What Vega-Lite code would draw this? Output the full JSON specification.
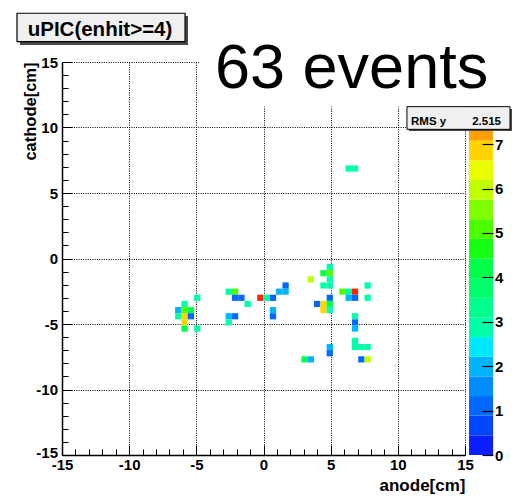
{
  "$schema": "https://vega.github.io/schema/vega-lite/v6.json",
  "width": 403,
  "height": 393,
  "autosize": {"type": "none"},
  "padding": {"left": 62, "top": 62, "right": 54, "bottom": 43},
  "background": "#ffffff",
  "config": {
    "view": {"stroke": null},
    "font": "Liberation Sans",
    "axis": {"labelFont": "Liberation Sans", "titleFont": "Liberation Sans", "labelColor": "#000", "titleColor": "#000", "tickColor": "#000", "domainColor": "#000"}
  },
  "datasets": {
    "cells": [
      {"x": -6.11, "x2": -5.64, "y": -3.705, "y2": -3.235, "n": 3},
      {"x": -6.58, "x2": -6.11, "y": -4.175, "y2": -3.705, "n": 2},
      {"x": -6.11, "x2": -5.64, "y": -4.175, "y2": -3.705, "n": 5},
      {"x": -5.64, "x2": -5.17, "y": -4.175, "y2": -3.705, "n": 4},
      {"x": -6.58, "x2": -6.11, "y": -4.645, "y2": -4.175, "n": 3},
      {"x": -6.11, "x2": -5.64, "y": -4.645, "y2": -4.175, "n": 7},
      {"x": -5.64, "x2": -5.17, "y": -4.645, "y2": -4.175, "n": 1},
      {"x": -6.11, "x2": -5.64, "y": -5.115, "y2": -4.645, "n": 7},
      {"x": -6.11, "x2": -5.64, "y": -5.585, "y2": -5.115, "n": 4},
      {"x": -5.17, "x2": -4.7, "y": -3.235, "y2": -2.765, "n": 3},
      {"x": -5.17, "x2": -4.7, "y": -5.585, "y2": -5.115, "n": 3},
      {"x": -2.82, "x2": -2.35, "y": -2.765, "y2": -2.295, "n": 3},
      {"x": -2.35, "x2": -1.88, "y": -2.765, "y2": -2.295, "n": 5},
      {"x": -2.35, "x2": -1.88, "y": -3.235, "y2": -2.765, "n": 1},
      {"x": -1.88, "x2": -1.41, "y": -3.235, "y2": -2.765, "n": 1},
      {"x": -1.41, "x2": -0.94, "y": -3.705, "y2": -3.235, "n": 3},
      {"x": -2.82, "x2": -2.35, "y": -4.645, "y2": -4.175, "n": 2},
      {"x": -2.35, "x2": -1.88, "y": -4.645, "y2": -4.175, "n": 1},
      {"x": -2.82, "x2": -2.35, "y": -5.115, "y2": -4.645, "n": 3},
      {"x": -0.47, "x2": 0, "y": -3.235, "y2": -2.765, "n": 8},
      {"x": 0, "x2": 0.47, "y": -3.235, "y2": -2.765, "n": 3},
      {"x": 0.47, "x2": 0.94, "y": -3.235, "y2": -2.765, "n": 1},
      {"x": 0.94, "x2": 1.41, "y": -2.765, "y2": -2.295, "n": 2},
      {"x": 1.41, "x2": 1.88, "y": -2.765, "y2": -2.295, "n": 2},
      {"x": 1.41, "x2": 1.88, "y": -2.295, "y2": -1.825, "n": 1},
      {"x": 0.47, "x2": 0.94, "y": -4.175, "y2": -3.705, "n": 2},
      {"x": 0.47, "x2": 0.94, "y": -4.645, "y2": -4.175, "n": 1},
      {"x": 4.7, "x2": 5.17, "y": -0.885, "y2": -0.415, "n": 3},
      {"x": 4.23, "x2": 4.7, "y": -1.355, "y2": -0.885, "n": 4},
      {"x": 4.7, "x2": 5.17, "y": -1.355, "y2": -0.885, "n": 5},
      {"x": 4.7, "x2": 5.17, "y": -1.825, "y2": -1.355, "n": 3},
      {"x": 4.23, "x2": 4.7, "y": -2.295, "y2": -1.825, "n": 3},
      {"x": 4.7, "x2": 5.17, "y": -2.295, "y2": -1.825, "n": 3},
      {"x": 3.29, "x2": 3.76, "y": -1.825, "y2": -1.355, "n": 6},
      {"x": 4.7, "x2": 5.17, "y": -3.235, "y2": -2.765, "n": 1},
      {"x": 3.76, "x2": 4.23, "y": -3.705, "y2": -3.235, "n": 1},
      {"x": 4.23, "x2": 4.7, "y": -3.705, "y2": -3.235, "n": 7},
      {"x": 4.23, "x2": 4.7, "y": -4.175, "y2": -3.705, "n": 7},
      {"x": 4.7, "x2": 5.17, "y": -3.705, "y2": -3.235, "n": 4},
      {"x": 4.7, "x2": 5.17, "y": -4.175, "y2": -3.705, "n": 3},
      {"x": 5.64, "x2": 6.11, "y": -2.765, "y2": -2.295, "n": 5},
      {"x": 6.11, "x2": 6.58, "y": -2.765, "y2": -2.295, "n": 3},
      {"x": 6.58, "x2": 7.05, "y": -2.765, "y2": -2.295, "n": 8},
      {"x": 6.11, "x2": 6.58, "y": -3.235, "y2": -2.765, "n": 2},
      {"x": 6.58, "x2": 7.05, "y": -3.235, "y2": -2.765, "n": 1},
      {"x": 7.52, "x2": 7.99, "y": -2.295, "y2": -1.825, "n": 3},
      {"x": 7.52, "x2": 7.99, "y": -3.235, "y2": -2.765, "n": 3},
      {"x": 6.58, "x2": 7.05, "y": -4.645, "y2": -4.175, "n": 3},
      {"x": 6.58, "x2": 7.05, "y": -5.115, "y2": -4.645, "n": 1},
      {"x": 6.58, "x2": 7.05, "y": -5.585, "y2": -5.115, "n": 2},
      {"x": 6.58, "x2": 7.05, "y": -6.525, "y2": -6.055, "n": 3},
      {"x": 6.58, "x2": 7.05, "y": -6.995, "y2": -6.525, "n": 3},
      {"x": 7.05, "x2": 7.52, "y": -6.995, "y2": -6.525, "n": 3},
      {"x": 7.52, "x2": 7.99, "y": -6.995, "y2": -6.525, "n": 3},
      {"x": 4.7, "x2": 5.17, "y": -6.995, "y2": -6.525, "n": 2},
      {"x": 4.7, "x2": 5.17, "y": -7.465, "y2": -6.995, "n": 1},
      {"x": 2.82, "x2": 3.29, "y": -7.935, "y2": -7.465, "n": 4},
      {"x": 3.29, "x2": 3.76, "y": -7.935, "y2": -7.465, "n": 2},
      {"x": 7.05, "x2": 7.52, "y": -7.935, "y2": -7.465, "n": 1},
      {"x": 7.52, "x2": 7.99, "y": -7.935, "y2": -7.465, "n": 6},
      {"x": 6.11, "x2": 6.58, "y": 6.635, "y2": 7.105, "n": 3},
      {"x": 6.58, "x2": 7.05, "y": 6.635, "y2": 7.105, "n": 3}
    ],
    "bands": [
      {"z0": 0, "z1": 0.4425},
      {"z0": 0.4425, "z1": 0.885},
      {"z0": 0.885, "z1": 1.3275},
      {"z0": 1.3275, "z1": 1.77},
      {"z0": 1.77, "z1": 2.2125},
      {"z0": 2.2125, "z1": 2.655},
      {"z0": 2.655, "z1": 3.0975},
      {"z0": 3.0975, "z1": 3.54},
      {"z0": 3.54, "z1": 3.9825},
      {"z0": 3.9825, "z1": 4.425},
      {"z0": 4.425, "z1": 4.8675},
      {"z0": 4.8675, "z1": 5.31},
      {"z0": 5.31, "z1": 5.7525},
      {"z0": 5.7525, "z1": 6.195},
      {"z0": 6.195, "z1": 6.6375},
      {"z0": 6.6375, "z1": 7.08},
      {"z0": 7.08, "z1": 7.5225},
      {"z0": 7.5225, "z1": 7.965},
      {"z0": 7.965, "z1": 8.4075},
      {"z0": 8.4075, "z1": 8.85}
    ]
  },
  "layer": [
    {
      "data": {"name": "cells"},
      "mark": {"type": "rect"},
      "encoding": {
        "x": {
          "field": "x", "type": "quantitative",
          "scale": {"domain": [-15, 15], "nice": false, "zero": false},
          "axis": {
            "orient": "bottom",
            "values": [-15, -14, -13, -12, -11, -10, -9, -8, -7, -6, -5, -4, -3, -2, -1, 0, 1, 2, 3, 4, 5, 6, 7, 8, 9, 10, 11, 12, 13, 14, 15],
            "labelExpr": "datum.value % 5 === 0 ? '' + datum.value : ''",
            "labelFontSize": 15, "labelFontWeight": "bold", "labelPadding": 12.5,
            "labelFlush": false, "labelOverlap": false,
            "tickSize": {"condition": {"test": "datum.value % 5 === 0", "value": -10}, "value": -6},
            "tickWidth": 1, "domainWidth": 1.5,
            "grid": true, "gridColor": "#000", "gridDash": [1, 1.3], "gridWidth": 1,
            "gridOpacity": {"condition": {"test": "datum.value % 5 === 0", "value": 1}, "value": 0},
            "title": "anode[cm]", "titleFontSize": 17, "titleFontWeight": "bold",
            "titleAnchor": "end", "titlePadding": 1, "zindex": 0
          }
        },
        "x2": {"field": "x2"},
        "y": {
          "field": "y", "type": "quantitative",
          "scale": {"domain": [-15, 15], "nice": false, "zero": false},
          "axis": {
            "orient": "left",
            "values": [-15, -14, -13, -12, -11, -10, -9, -8, -7, -6, -5, -4, -3, -2, -1, 0, 1, 2, 3, 4, 5, 6, 7, 8, 9, 10, 11, 12, 13, 14, 15],
            "labelExpr": "datum.value % 5 === 0 ? '' + datum.value : ''",
            "labelFontSize": 15, "labelFontWeight": "bold", "labelPadding": 14.5,
            "labelOffset": {"condition": {"test": "datum.value === -15", "value": -3}, "value": 0},
            "labelFlush": false, "labelOverlap": false,
            "tickSize": {"condition": {"test": "datum.value % 5 === 0", "value": -10}, "value": -6},
            "tickWidth": 1, "domainWidth": 1.5,
            "grid": true, "gridColor": "#000", "gridDash": [1, 1.3], "gridWidth": 1,
            "gridOpacity": {"condition": {"test": "datum.value % 5 === 0", "value": 1}, "value": 0},
            "title": "cathode[cm]", "titleFontSize": 16.5, "titleFontWeight": "bold",
            "titleAnchor": "end", "titlePadding": -3, "zindex": 0
          }
        },
        "y2": {"field": "y2"},
        "color": {
          "field": "n", "type": "quantitative",
          "scale": {
            "type": "threshold",
            "domain": [0.4425, 0.885, 1.3275, 1.77, 2.2125, 2.655, 3.0975, 3.54, 3.9825, 4.425, 4.8675, 5.31, 5.7525, 6.195, 6.6375, 7.08, 7.5225, 7.965, 8.4075],
            "range": ["#0a1eff", "#0046ff", "#0068ff", "#008cff", "#00b4ff", "#00e8ff", "#00ffaa", "#00ff8c", "#00ff6a", "#00ff48", "#14ff14", "#4cff00", "#80ff00", "#c0ff00", "#e8ff00", "#ffd400", "#ffa000", "#ff6a00", "#ff2400", "#ff0000"]
          },
          "legend": null
        }
      }
    },
    {
      "data": {"name": "bands"},
      "mark": {"type": "rect", "clip": false},
      "encoding": {
        "x": {"datum": 15.3, "type": "quantitative", "scale": {"domain": [-15, 15], "nice": false, "zero": false}, "axis": null},
        "x2": {"datum": 17.09},
        "y": {
          "field": "z0", "type": "quantitative",
          "scale": {"domain": [0, 8.85], "nice": false, "zero": false},
          "axis": {
            "orient": "right", "offset": 28,
            "values": [0, 1, 2, 3, 4, 5, 6, 7],
            "tickSize": -11, "tickWidth": 1.2, "labelPadding": 12.5,
            "labelFontSize": 15, "labelFontWeight": "bold", "labelFlush": false, "labelOverlap": false,
            "domain": false, "grid": false, "title": null, "zindex": 1
          }
        },
        "y2": {"field": "z1"},
        "color": {
          "field": "z0", "type": "quantitative",
          "scale": {
            "type": "threshold",
            "domain": [0.4425, 0.885, 1.3275, 1.77, 2.2125, 2.655, 3.0975, 3.54, 3.9825, 4.425, 4.8675, 5.31, 5.7525, 6.195, 6.6375, 7.08, 7.5225, 7.965, 8.4075],
            "range": ["#0a1eff", "#0046ff", "#0068ff", "#008cff", "#00b4ff", "#00e8ff", "#00ffaa", "#00ff8c", "#00ff6a", "#00ff48", "#14ff14", "#4cff00", "#80ff00", "#c0ff00", "#e8ff00", "#ffd400", "#ffa000", "#ff6a00", "#ff2400", "#ff0000"]
          },
          "legend": null
        }
      }
    },
    {
      "layer": [
        {
          "data": {"values": [{}]},
          "mark": {"type": "rect", "fill": "#ffffff", "clip": false},
          "encoding": {
            "x": {"datum": -4.8, "type": "quantitative", "scale": {"domain": [-15, 15], "nice": false, "zero": false}, "axis": null},
            "x2": {"datum": 18.43},
            "y": {"datum": 19.73, "type": "quantitative", "scale": {"domain": [-15, 15], "nice": false, "zero": false}, "axis": null},
            "y2": {"datum": 11.6}
          }
        },
        {
          "data": {"values": [{}]},
          "mark": {"type": "text", "text": "63 events", "font": "Liberation Sans", "fontSize": 63, "align": "left", "baseline": "alphabetic", "color": "#000000", "clip": false},
          "encoding": {
            "x": {"datum": -3.61, "type": "quantitative", "scale": {"domain": [-15, 15], "nice": false, "zero": false}, "axis": null},
            "y": {"datum": 13.05, "type": "quantitative", "scale": {"domain": [-15, 15], "nice": false, "zero": false}, "axis": null}
          }
        },
        {
          "data": {"values": [{}]},
          "mark": {"type": "rect", "fill": "#4a4a4a", "clip": false},
          "encoding": {
            "x": {"datum": 10.83, "type": "quantitative", "scale": {"domain": [-15, 15], "nice": false, "zero": false}, "axis": null},
            "x2": {"datum": 18.5},
            "y": {"datum": 11.41, "type": "quantitative", "scale": {"domain": [-15, 15], "nice": false, "zero": false}, "axis": null},
            "y2": {"datum": 9.73}
          }
        },
        {
          "data": {"values": [{}]},
          "mark": {"type": "rect", "fill": "#f0f0f0", "stroke": "#000000", "strokeWidth": 1, "clip": false},
          "encoding": {
            "x": {"datum": 10.68, "type": "quantitative", "scale": {"domain": [-15, 15], "nice": false, "zero": false}, "axis": null},
            "x2": {"datum": 18.35},
            "y": {"datum": 11.59, "type": "quantitative", "scale": {"domain": [-15, 15], "nice": false, "zero": false}, "axis": null},
            "y2": {"datum": 9.86}
          }
        },
        {
          "data": {"values": [{}]},
          "mark": {"type": "text", "text": "RMS y", "font": "Liberation Sans", "fontSize": 11.5, "fontWeight": "bold", "align": "left", "baseline": "alphabetic", "color": "#000000", "clip": false},
          "encoding": {
            "x": {"datum": 10.98, "type": "quantitative", "scale": {"domain": [-15, 15], "nice": false, "zero": false}, "axis": null},
            "y": {"datum": 10.19, "type": "quantitative", "scale": {"domain": [-15, 15], "nice": false, "zero": false}, "axis": null}
          }
        },
        {
          "data": {"values": [{}]},
          "mark": {"type": "text", "text": "2.515", "font": "Liberation Sans", "fontSize": 11.5, "fontWeight": "bold", "align": "right", "baseline": "alphabetic", "color": "#000000", "clip": false},
          "encoding": {
            "x": {"datum": 17.68, "type": "quantitative", "scale": {"domain": [-15, 15], "nice": false, "zero": false}, "axis": null},
            "y": {"datum": 10.19, "type": "quantitative", "scale": {"domain": [-15, 15], "nice": false, "zero": false}, "axis": null}
          }
        },
        {
          "data": {"values": [{}]},
          "mark": {"type": "rect", "fill": "#4a4a4a", "clip": false},
          "encoding": {
            "x": {"datum": -18.13, "type": "quantitative", "scale": {"domain": [-15, 15], "nice": false, "zero": false}, "axis": null},
            "x2": {"datum": -5.62},
            "y": {"datum": 18.51, "type": "quantitative", "scale": {"domain": [-15, 15], "nice": false, "zero": false}, "axis": null},
            "y2": {"datum": 16.3}
          }
        },
        {
          "data": {"values": [{}]},
          "mark": {"type": "rect", "fill": "#f0f0f0", "stroke": "#000000", "strokeWidth": 1.2, "clip": false},
          "encoding": {
            "x": {"datum": -18.35, "type": "quantitative", "scale": {"domain": [-15, 15], "nice": false, "zero": false}, "axis": null},
            "x2": {"datum": -5.84},
            "y": {"datum": 18.72, "type": "quantitative", "scale": {"domain": [-15, 15], "nice": false, "zero": false}, "axis": null},
            "y2": {"datum": 16.55}
          }
        },
        {
          "data": {"values": [{}]},
          "mark": {"type": "text", "text": "uPIC(enhit>=4)", "font": "Liberation Sans", "fontSize": 20.5, "fontWeight": "bold", "align": "center", "baseline": "alphabetic", "color": "#000000", "clip": false},
          "encoding": {
            "x": {"datum": -12.17, "type": "quantitative", "scale": {"domain": [-15, 15], "nice": false, "zero": false}, "axis": null},
            "y": {"datum": 16.98, "type": "quantitative", "scale": {"domain": [-15, 15], "nice": false, "zero": false}, "axis": null}
          }
        }
      ]
    }
  ],
  "resolve": {"scale": {"y": "independent"}, "axis": {"x": "independent"}}
}
